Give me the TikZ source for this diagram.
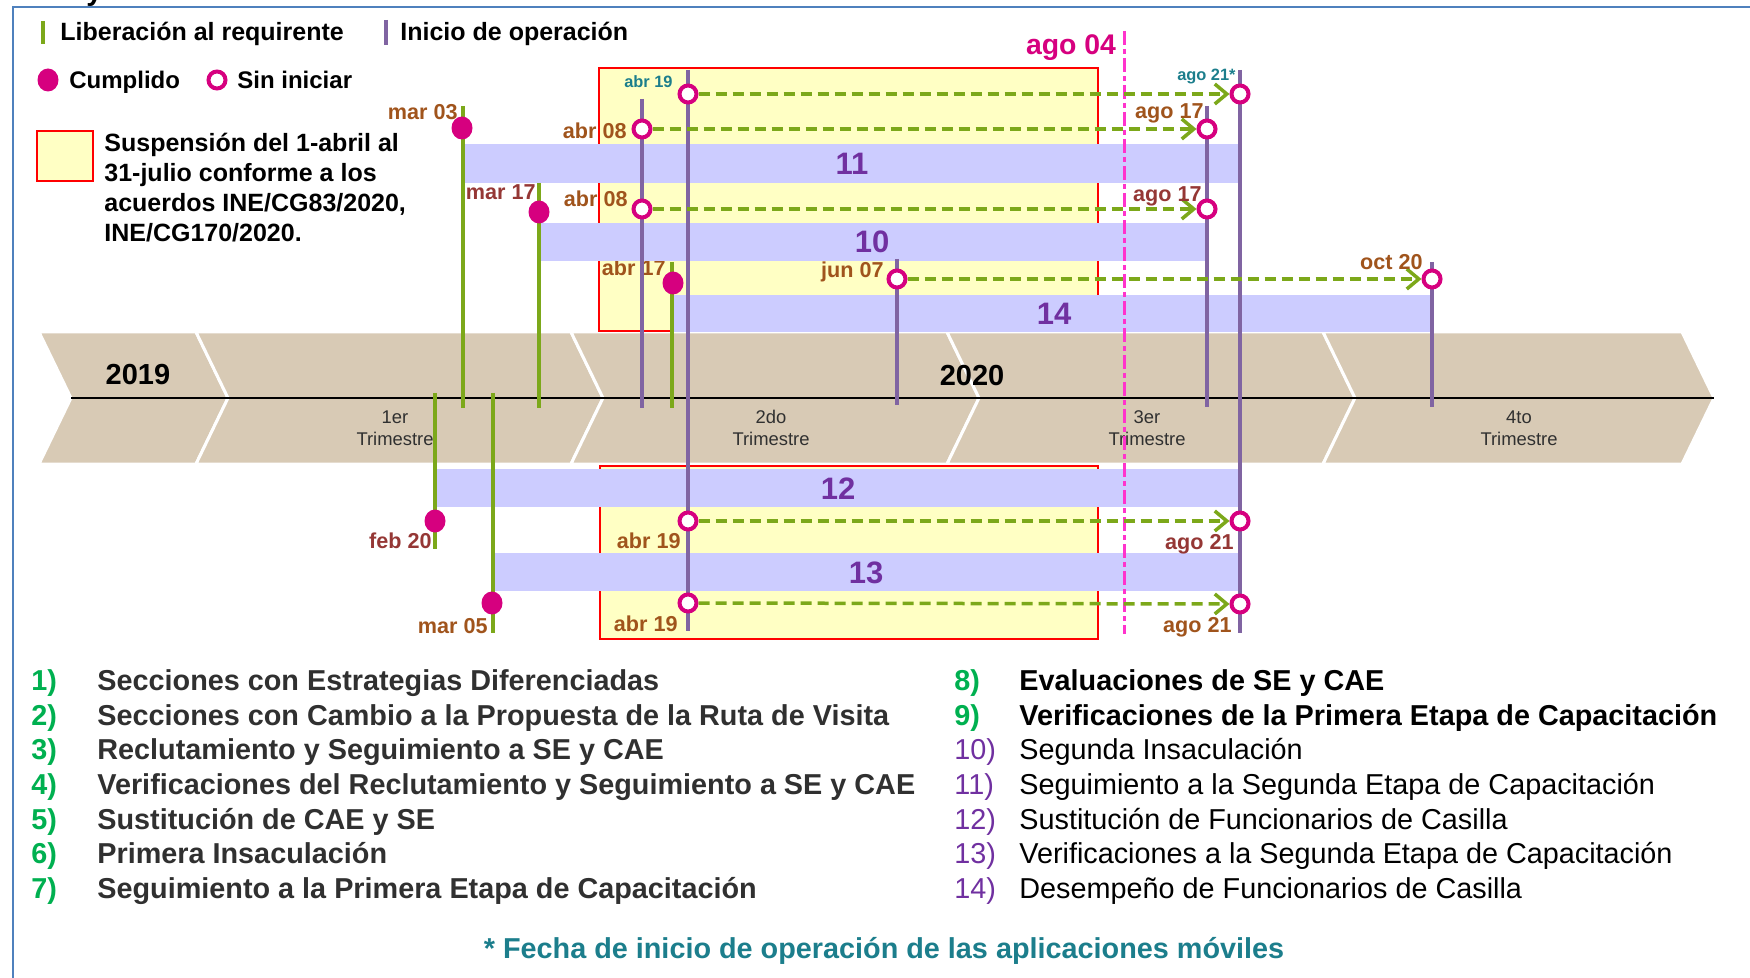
\documentclass[tikz,border=0pt]{standalone}
\usepackage{fontspec}
\setmainfont{Liberation Sans}
\usetikzlibrary{arrows.meta,shapes.geometric}
\definecolor{lgreen}{RGB}{124,168,26}
\definecolor{lpurple}{RGB}{128,100,162}
\definecolor{barc}{RGB}{204,204,255}
\definecolor{mag}{RGB}{214,0,127}
\definecolor{pinkl}{RGB}{255,51,204}
\definecolor{brownl}{RGB}{160,84,28}
\definecolor{maroonl}{RGB}{149,55,53}
\definecolor{teall}{RGB}{28,126,140}
\definecolor{yell}{RGB}{255,255,196}
\definecolor{bandc}{RGB}{216,202,181}
\definecolor{listgreen}{RGB}{0,176,80}
\definecolor{numpurple}{RGB}{112,48,160}
\definecolor{framec}{RGB}{79,129,189}
\definecolor{dgray}{RGB}{48,48,48}
\newcommand\myfs[1]{\fontsize{#1pt}{#1pt}\selectfont}
\newcommand\chev[2]{\fill[bandc, draw=white, line width=1.5pt] (#1,332) -- (#2,332) -- ++(32,66) -- (#2,464) -- (#1,464) -- ++(32,-66) -- cycle;}
\begin{document}
\begin{tikzpicture}[x=0.5pt,y=-0.5pt,
  gl/.style={draw=lgreen, line width=1.75pt},
  pl/.style={draw=lpurple, line width=1.75pt},
  dot/.style={ellipse, fill=mag, minimum width=10.5pt, minimum height=11.5pt, inner sep=0pt},
  ring/.style={circle, draw=mag, fill=white, line width=2pt, minimum size=8.5pt, inner sep=0pt},
  darr/.style={draw=lgreen, line width=1.75pt, dash pattern=on 5.5pt off 3pt, -{Straight Barb[length=6pt,width=10pt]}},
  bar/.style={fill=barc},
  dl/.style={font=\bfseries\myfs{10.8}, inner sep=0pt, anchor=base east},
  tl/.style={font=\bfseries\myfs{8.2}, inner sep=0pt, anchor=base east, text=teall},
  barnum/.style={font=\bfseries\myfs{15.5}, text=numpurple, inner sep=0pt},
  leg/.style={font=\bfseries\myfs{12.5}, inner sep=0pt, anchor=base west},
  qtr/.style={font=\myfs{9.2}, text=dgray, inner sep=0pt, anchor=base},
  yr/.style={font=\bfseries\myfs{14.5}, inner sep=0pt, anchor=base},
  lnum/.style={font=\bfseries\myfs{14.4}, inner sep=0pt, anchor=base west},
  ltxt/.style={font=\bfseries\myfs{14.4}, inner sep=0pt, anchor=base west},
  rtxt/.style={font=\myfs{14.4}, inner sep=0pt, anchor=base west}
]
\useasboundingbox (0,0) rectangle (1750,978);
% cut-off title fragment
\node[font=\bfseries\myfs{14.4}, inner sep=0pt, anchor=base west] (ttl) at (86,1) {y};
% frame
\draw[framec, line width=1pt] (1750,7) -- (12.5,7) -- (12.5,978);
% legend
\draw[gl, line width=2pt] (43,21) -- (43,44);
\node[leg] (lg1) at (60,41) {Liberación al requirente};
\draw[pl, line width=2pt] (386,20) -- (386,45);
\node[leg] (lg2) at (400,41) {Inicio de operación};
\node[dot] (lgd) at (48,80) {};
\node[leg, font=\bfseries\myfs{12}] (lg3) at (69,89) {Cumplido};
\node[ring] (lgr) at (217,80) {};
\node[leg, font=\bfseries\myfs{12}] (lg4) at (237,89) {Sin iniciar};
\draw[red, line width=1pt, fill=yell] (37,131) rectangle (93,181);
\node[leg] (s1) at (104,152) {Suspensión del 1-abril al};
\node[leg] (s2) at (104,182) {31-julio conforme a los};
\node[leg] (s3) at (104,212) {acuerdos INE/CG83/2020,};
\node[leg] (s4) at (104,242) {INE/CG170/2020.};
% yellow suspension areas
\fill[yell] (599,68) rectangle (1098,331);
\fill[yell] (600,466) rectangle (1098,639);
% timeline band
\chev{39}{196}
\chev{196}{571}
\chev{571}{947}
\chev{947}{1323}
\chev{1323}{1682}
\draw[black, line width=1.25pt] (71,398) -- (1714,398);
\node[yr] (y19) at (138,385) {2019};
\node[yr] (y20) at (972,386) {2020};
\node[qtr] (q1a) at (395,423) {1er};
\node[qtr] (q1b) at (395,445) {Trimestre};
\node[qtr] (q2a) at (771,423) {2do};
\node[qtr] (q2b) at (771,445) {Trimestre};
\node[qtr] (q3a) at (1147,423) {3er};
\node[qtr] (q3b) at (1147,445) {Trimestre};
\node[qtr] (q4a) at (1519,423) {4to};
\node[qtr] (q4b) at (1519,445) {Trimestre};
% labels under red borders
\node[dl, text=brownl] (l1) at (627,139) {abr 08};
\node[dl, text=brownl] (l2) at (628,207) {abr 08};
\node[dl, text=brownl] (l3) at (666,276) {abr 17};
% red borders
\draw[red, line width=1pt] (599,68) rectangle (1098,331);
\draw[red, line width=1pt] (600,466) rectangle (1098,639);
% bars
\fill[bar] (464,144) rectangle (1238,183);
\fill[bar] (540,223) rectangle (1206,261);
\fill[bar] (674,295) rectangle (1430,332);
\fill[bar] (437,469) rectangle (1239,507);
\fill[bar] (495,553) rectangle (1239,591);
\node[barnum] (b11) at (852,164) {11};
\node[barnum] (b10) at (872,242) {10};
\node[barnum] (b14) at (1054,314) {14};
\node[barnum] (b12) at (838,489) {12};
\node[barnum] (b13) at (866,573) {13};
% vertical green lines
\draw[gl] (463,106) -- (463,408);
\draw[gl] (539,183) -- (539,408);
\draw[gl] (672,262) -- (672,408);
\draw[gl] (435,393) -- (435,549);
\draw[gl] (493,393) -- (493,633);
% vertical purple lines
\draw[pl] (642,99) -- (642,408);
\draw[pl] (688,70) -- (688,631);
\draw[pl] (897,259) -- (897,405);
\draw[pl] (1207,106) -- (1207,407);
\draw[pl] (1240,70) -- (1240,633);
\draw[pl] (1432,262) -- (1432,407);
% ago 04 line
\draw[pinkl, line width=1.5pt, dash pattern=on 7pt off 2pt on 2.5pt off 2pt] (1124,31) -- (1124,634);
\node[font=\bfseries\myfs{14.2}, text=mag, inner sep=0pt, anchor=base] (a04) at (1071,55) {ago 04};
% markers
\node[dot] (d1) at (462,128) {};
\node[dot] (d2) at (539,212) {};
\node[dot] (d3) at (673,283) {};
\node[dot] (d4) at (435,521) {};
\node[dot] (d5) at (492,603) {};
\node[ring] (o1) at (688,94) {};
\node[ring] (o2) at (642,129) {};
\node[ring] (o3) at (642,209) {};
\node[ring] (o4) at (897,279) {};
\node[ring] (o5) at (688,521) {};
\node[ring] (o6) at (688,603) {};
\node[ring] (e1) at (1240,94) {};
\node[ring] (e2) at (1207,129) {};
\node[ring] (e3) at (1207,209) {};
\node[ring] (e4) at (1432,279) {};
\node[ring] (e5) at (1240,521) {};
\node[ring] (e6) at (1240,604) {};
\draw[darr] (o1) -- (e1);
\draw[darr] (o2) -- (e2);
\draw[darr] (o3) -- (e3);
\draw[darr] (o4) -- (e4);
\draw[darr] (o5) -- (e5);
\draw[darr] (o6) -- (e6);
% date labels
\node[dl, text=brownl] (m03) at (458,120) {mar 03};
\node[dl, text=maroonl] (m17) at (536,200) {mar 17};
\node[dl, text=brownl] (j07) at (884,278) {jun 07};
\node[dl, text=brownl] (g17a) at (1204,119) {ago 17};
\node[dl, text=maroonl] (g17b) at (1202,202) {ago 17};
\node[dl, text=brownl] (o20) at (1423,270) {oct 20};
\node[dl, text=maroonl] (f20) at (432,548) {feb 20};
\node[dl, text=brownl] (m05) at (488,633) {mar 05};
\node[dl, text=brownl] (a19b) at (681,548) {abr 19};
\node[dl, text=brownl] (a19c) at (678,631) {abr 19};
\node[dl, text=maroonl] (g21b) at (1234,549) {ago 21};
\node[dl, text=brownl] (g21c) at (1232,632) {ago 21};
\node[tl] (a19a) at (673,88) {abr 19};
\node[tl] (g21a) at (1236,81) {ago 21*};
% list
\foreach \n/\t/\yy in {1/Secciones con Estrategias Diferenciadas/690,
  2/Secciones con Cambio a la Propuesta de la Ruta de Visita/725,
  3/Reclutamiento y Seguimiento a SE y CAE/759,
  4/Verificaciones del Reclutamiento y Seguimiento a SE y CAE/794,
  5/Sustitución de CAE y SE/829,
  6/Primera Insaculación/863,
  7/Seguimiento a la Primera Etapa de Capacitación/898}{
  \node[lnum, text=listgreen] (n\n) at (31,\yy) {\n)};
  \node[ltxt, text=dgray] (t\n) at (97,\yy) {\t};
}
\node[lnum, text=listgreen] (n8) at (954,690) {8)};
\node[ltxt] (t8) at (1019,690) {Evaluaciones de SE y CAE};
\node[lnum, text=listgreen] (n9) at (954,725) {9)};
\node[ltxt] (t9) at (1019,725) {Verificaciones de la Primera Etapa de Capacitación};
\foreach \n/\t/\yy in {10/Segunda Insaculación/759,
  11/Seguimiento a la Segunda Etapa de Capacitación/794,
  12/Sustitución de Funcionarios de Casilla/829,
  13/Verificaciones a la Segunda Etapa de Capacitación/863,
  14/Desempeño de Funcionarios de Casilla/898}{
  \node[lnum, font=\myfs{14.4}, text=numpurple] (n\n) at (954,\yy) {\n)};
  \node[rtxt] (t\n) at (1019,\yy) {\t};
}
\node[font=\bfseries\myfs{14.4}, text=teall, inner sep=0pt, anchor=base] (foot) at (884,958) {* Fecha de inicio de operación de las aplicaciones móviles};
\end{tikzpicture}
\end{document}
